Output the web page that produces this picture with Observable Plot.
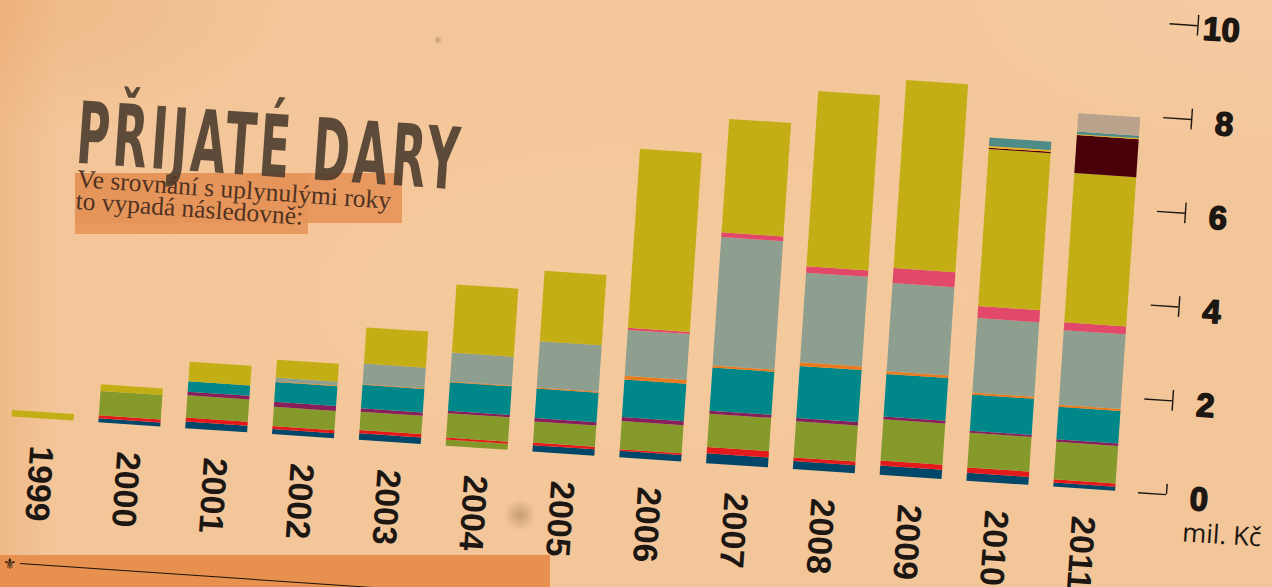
<!DOCTYPE html>
<html><head><meta charset="utf-8">
<script src="https://cdn.jsdelivr.net/npm/d3@7"></script>
<script src="https://cdn.jsdelivr.net/npm/@observablehq/plot@0.6"></script>
<style>
html,body{margin:0;padding:0;width:1272px;height:587px;overflow:hidden;}
body{position:relative;background:#f3c699;}
#bg{position:absolute;left:0;top:0;width:1272px;height:587px;
 background:
  radial-gradient(circle at 520px 515px, rgba(120,80,40,0.35) 0px, rgba(120,80,40,0) 16px),
  radial-gradient(circle at 438px 40px, rgba(90,60,30,0.35) 0px, rgba(90,60,30,0) 4px),
  radial-gradient(ellipse at 0px 0px, rgba(225,145,80,0.25) 0px, rgba(225,145,80,0) 300px),
  linear-gradient(90deg, rgba(228,150,90,0.25) 0px, rgba(228,150,90,0) 60px),
  radial-gradient(ellipse at 1272px 0px, rgba(250,208,175,0.45) 0px, rgba(250,208,175,0) 400px),
  radial-gradient(ellipse at 640px 300px, rgba(246,206,160,0.45) 0px, rgba(246,206,160,0) 600px);}
#band{position:absolute;left:0;top:555px;width:550px;height:32px;background:#e8904f;overflow:hidden;}
#band .ln{position:absolute;left:20px;top:8px;width:600px;height:1.3px;background:#1a1208;transform:rotate(3.9deg);transform-origin:0 0;}
#band .ic{position:absolute;left:3px;top:0px;font:bold 15px "DejaVu Sans";color:#1a1208;}
.hl{position:absolute;background:#e6955a;opacity:0.92;}
.hl1{left:75px;top:173px;width:327px;height:50px;}
.hl2{left:75px;top:173px;width:233px;height:61px;}
#title{position:absolute;left:80px;top:90px;white-space:nowrap;font-family:"DejaVu Sans Condensed";font-weight:bold;font-size:86px;line-height:86px;letter-spacing:6px;color:rgba(78,60,46,0.9);transform-origin:0 0;transform:rotate(4deg) scaleX(0.58);}
#sub{position:absolute;left:78px;top:168px;white-space:nowrap;font-family:"Liberation Serif";font-size:25.5px;line-height:22px;color:#4e3222;transform-origin:0 0;transform:rotate(4deg);}
#chart svg{position:absolute;left:0;top:0;transform-origin:1164px 494px;transform:rotate(3.85deg);}
</style></head><body>
<div id="bg"></div>
<div id="band"><div class="ln"></div><div class="ic">⚜</div></div>
<div class="hl hl2"></div><div class="hl hl1"></div>
<div id="title">PŘIJATÉ DARY</div>
<div id="sub">Ve srovnání s uplynulými roky<br>to vypadá následovně:</div>
<div id="chart"></div>
<script>
// --- data (mil. Kč) ---
const years = ["1999","2000","2001","2002","2003","2004","2005","2006","2007","2008","2009","2010","2011"];
const blue      = [0,    0.085,0.14, 0.106,0.14, 0,    0.135,0.14, 0.21, 0.17, 0.20, 0.17, 0.085];
const greenBase = [0,    0,    0,    0,    0,    0.13, 0,    0,    0,    0,    0,    0,    0];
const red       = [0,    0.064,0.085,0.064,0.071,0.043,0.057,0.035,0.135,0.078,0.106,0.113,0.071];
const green     = [0,    0.52, 0.475,0.41, 0.39, 0.52, 0.45, 0.60, 0.71, 0.77, 0.88, 0.74, 0.80];
const purple    = [0,    0,    0.078,0.106,0.071,0.05, 0.071,0.085,0.064,0.071,0.057,0.043,0.05];
const teal      = [0,    0,    0.22, 0.42, 0.50, 0.61, 0.63, 0.80, 0.92, 1.11, 0.91, 0.77, 0.695];
const orange    = [0,    0,    0,    0.014,0.014,0.014,0.02, 0.078,0.043,0.078,0.057,0.043,0.043];
const grey      = [0,    0,    0,    0.085,0.44, 0.62, 0.99, 0.98, 2.74, 1.91, 1.88, 1.59, 1.59];
const pink      = [0,    0,    0,    0,    0,    0,    0,    0.043,0.10, 0.135,0.32, 0.255,0.17];
const yellow    = [0.14, 0.14, 0.42, 0.38, 0.77, 1.45, 1.50, 3.82, 2.42, 3.74, 4.01, 3.35, 3.18];
const maroon    = [0,    0,    0,    0,    0,    0,    0,    0,    0,    0,    0,    0.028,0.81];
const gold      = [0,    0,    0,    0,    0,    0,    0,    0,    0,    0,    0,    0.035,0.021];
const teal2     = [0,    0,    0,    0,    0,    0,    0,    0,    0,    0,    0,    0.18, 0.057];
const tan       = [0,    0,    0,    0,    0,    0,    0,    0,    0,    0,    0,    0,    0.39];

const seriesNames  = ["blue","greenBase","red","green","purple","teal","orange","grey","pink","yellow","maroon","gold","teal2","tan"];
const seriesColors = ["#00476a","#84972a","#e3191c","#86992b","#861f5c","#00878a","#ea7a1e","#8f9f8f","#e1486a","#c3ae16","#4a0009","#f1b21c","#4f8c88","#b9a38c"];
const seriesData = {blue, greenBase, red, green, purple, teal, orange, grey, pink, yellow, maroon, gold, teal2, tan};

const tickValues = [0, 2, 4, 6, 8, 10];
const tickLabels = ["0", "2", "4", "6", "8", "10"];
const unitLabel = "mil. Kč";
const axisSlot = "osa";

const table = [];
years.forEach((yr, i) => seriesNames.forEach(s => table.push({year: yr, series: s, value: seriesData[s][i]})));

const ink = "#1c1712";
const chart = Plot.plot({
  width: 1272, height: 587,
  marginLeft: 9, marginRight: 70, marginTop: 24, marginBottom: 93,
  style: {background: "transparent", overflow: "visible"},
  x: {type: "band", domain: [...years, axisSlot], paddingInner: 0.287, paddingOuter: 0, align: 0, round: false, axis: null},
  y: {domain: [0, 10], axis: null},
  color: {domain: seriesNames, range: seriesColors},
  marks: [
    Plot.barY(table, {x: "year", y: "value", fill: "series", order: seriesNames}),
    Plot.text(years, {x: d => d, y: () => 0, text: d => d, rotate: 90, textAnchor: "start", lineAnchor: "middle",
      dy: 27, fontSize: 34, fontWeight: "bold", fontFamily: "Liberation Sans", fill: ink}),
    Plot.tickY(tickValues, {x: () => axisSlot, y: d => d, insetLeft: -2, insetRight: 36, stroke: ink, strokeWidth: 1.4}),
    Plot.ruleX(tickValues, {x: () => axisSlot, y1: d => d === 0 ? 0 : d - 0.22, y2: d => d + 0.22, dx: -5, stroke: ink, strokeWidth: 1.4}),
    Plot.text(tickValues, {x: () => axisSlot, y: d => d, text: (d, i) => tickLabels[i], textAnchor: "end", lineAnchor: "middle",
      dx: 37, dy: 3, fontSize: 33, fontWeight: "bold", fontFamily: "Liberation Sans", fill: ink, stroke: ink, strokeWidth: 1.5}),
    Plot.text([unitLabel], {x: () => axisSlot, y: () => 0, text: d => d, textAnchor: "middle", lineAnchor: "middle",
      dx: 53, dy: 37, fontSize: 26, fontFamily: "Open Sans", fill: ink})
  ]
});
document.getElementById("chart").appendChild(chart);
</script>
</body></html>
